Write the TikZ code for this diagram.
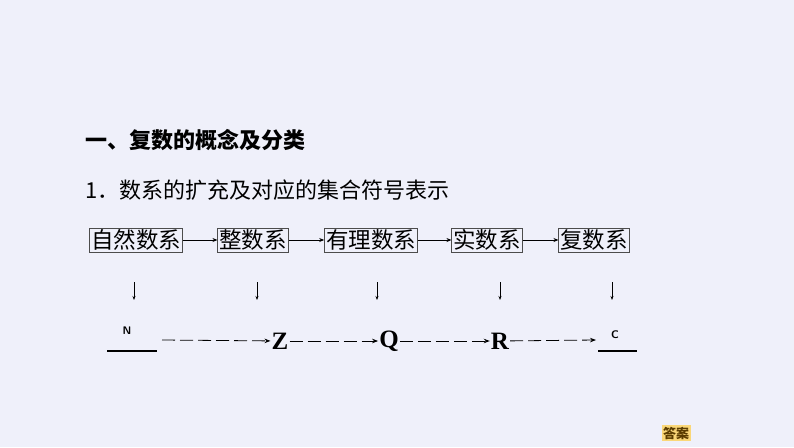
\documentclass[tikz,border=0pt]{standalone}
\usetikzlibrary{arrows.meta}
\usepackage{fontspec}
\newfontfamily\cjk{Noto Sans CJK SC}
\setmainfont{Liberation Serif}
\begin{document}
\begin{tikzpicture}[x=1pt,y=-1pt,
 box/.style={draw=black!70,line width=0.6pt,inner sep=1.5pt,font=\cjk\fontsize{22.5}{24}\selectfont},
 arr/.style={-{Stealth[length=5pt,width=4pt]},line width=0.8pt},
 darr/.style={-{Stealth[length=6pt,width=4.5pt]},line width=0.8pt,dash pattern=on 13pt off 5pt},
 sym/.style={font=\bfseries\fontsize{25}{25}\selectfont,inner sep=1pt}]
\fill[fill={rgb,255:red,239;green,240;blue,250}] (0,0) rectangle (794,447);
\node[anchor=west,font=\cjk\bfseries\fontsize{22}{24}\selectfont] (t1) at (82,140) {一、复数的概念及分类};
\node[anchor=west,font=\cjk\fontsize{22}{24}\selectfont] (t2) at (82,190) {1．数系的扩充及对应的集合符号表示};
\node[box] (b1) at (136,240) {自然数系};
\node[box] (b2) at (253,240) {整数系};
\node[box] (b3) at (371,240) {有理数系};
\node[box] (b4) at (487,240) {实数系};
\node[box] (b5) at (594,240) {复数系};
\foreach \a/\b in {b1/b2,b2/b3,b3/b4,b4/b5} \draw[arr] (\a) -- (\b);
\foreach \i/\x in {1/134,2/257,3/377,4/500,5/612}{
 \coordinate (u\i) at (\x,282); \coordinate (d\i) at (\x,300);
 \draw[-{Stealth[length=4pt,width=3pt]},line width=0.6pt] (u\i) -- (d\i);}
\node[font=\sffamily\bfseries\fontsize{11}{11}\selectfont] (N) at (127,331) {N};
\draw[line width=1.5pt] (107,351) -- (157,351);
\coordinate (ns) at (162,340);
\node[sym] (Z) at (280,341) {Z};
\node[sym] (Q) at (389,341) {Q};
\node[sym] (R) at (500,341) {R};
\node[font=\sffamily\bfseries\fontsize{11}{11}\selectfont] (C) at (615,335) {C};
\draw[line width=1.5pt] (598,351) -- (637,351);
\coordinate (ce) at (596,340);
\draw[darr] (ns) -- (Z);
\draw[darr] (Z) -- (Q);
\draw[darr] (Q) -- (R);
\draw[darr] (R) -- (ce);
\node[fill={rgb,255:red,250;green,215;blue,120},inner sep=1.5pt,text={rgb,255:red,90;green,60;blue,0},font=\cjk\bfseries\fontsize{13}{13}\selectfont] (ans) at (676,433) {答案};
\end{tikzpicture}
\end{document}
